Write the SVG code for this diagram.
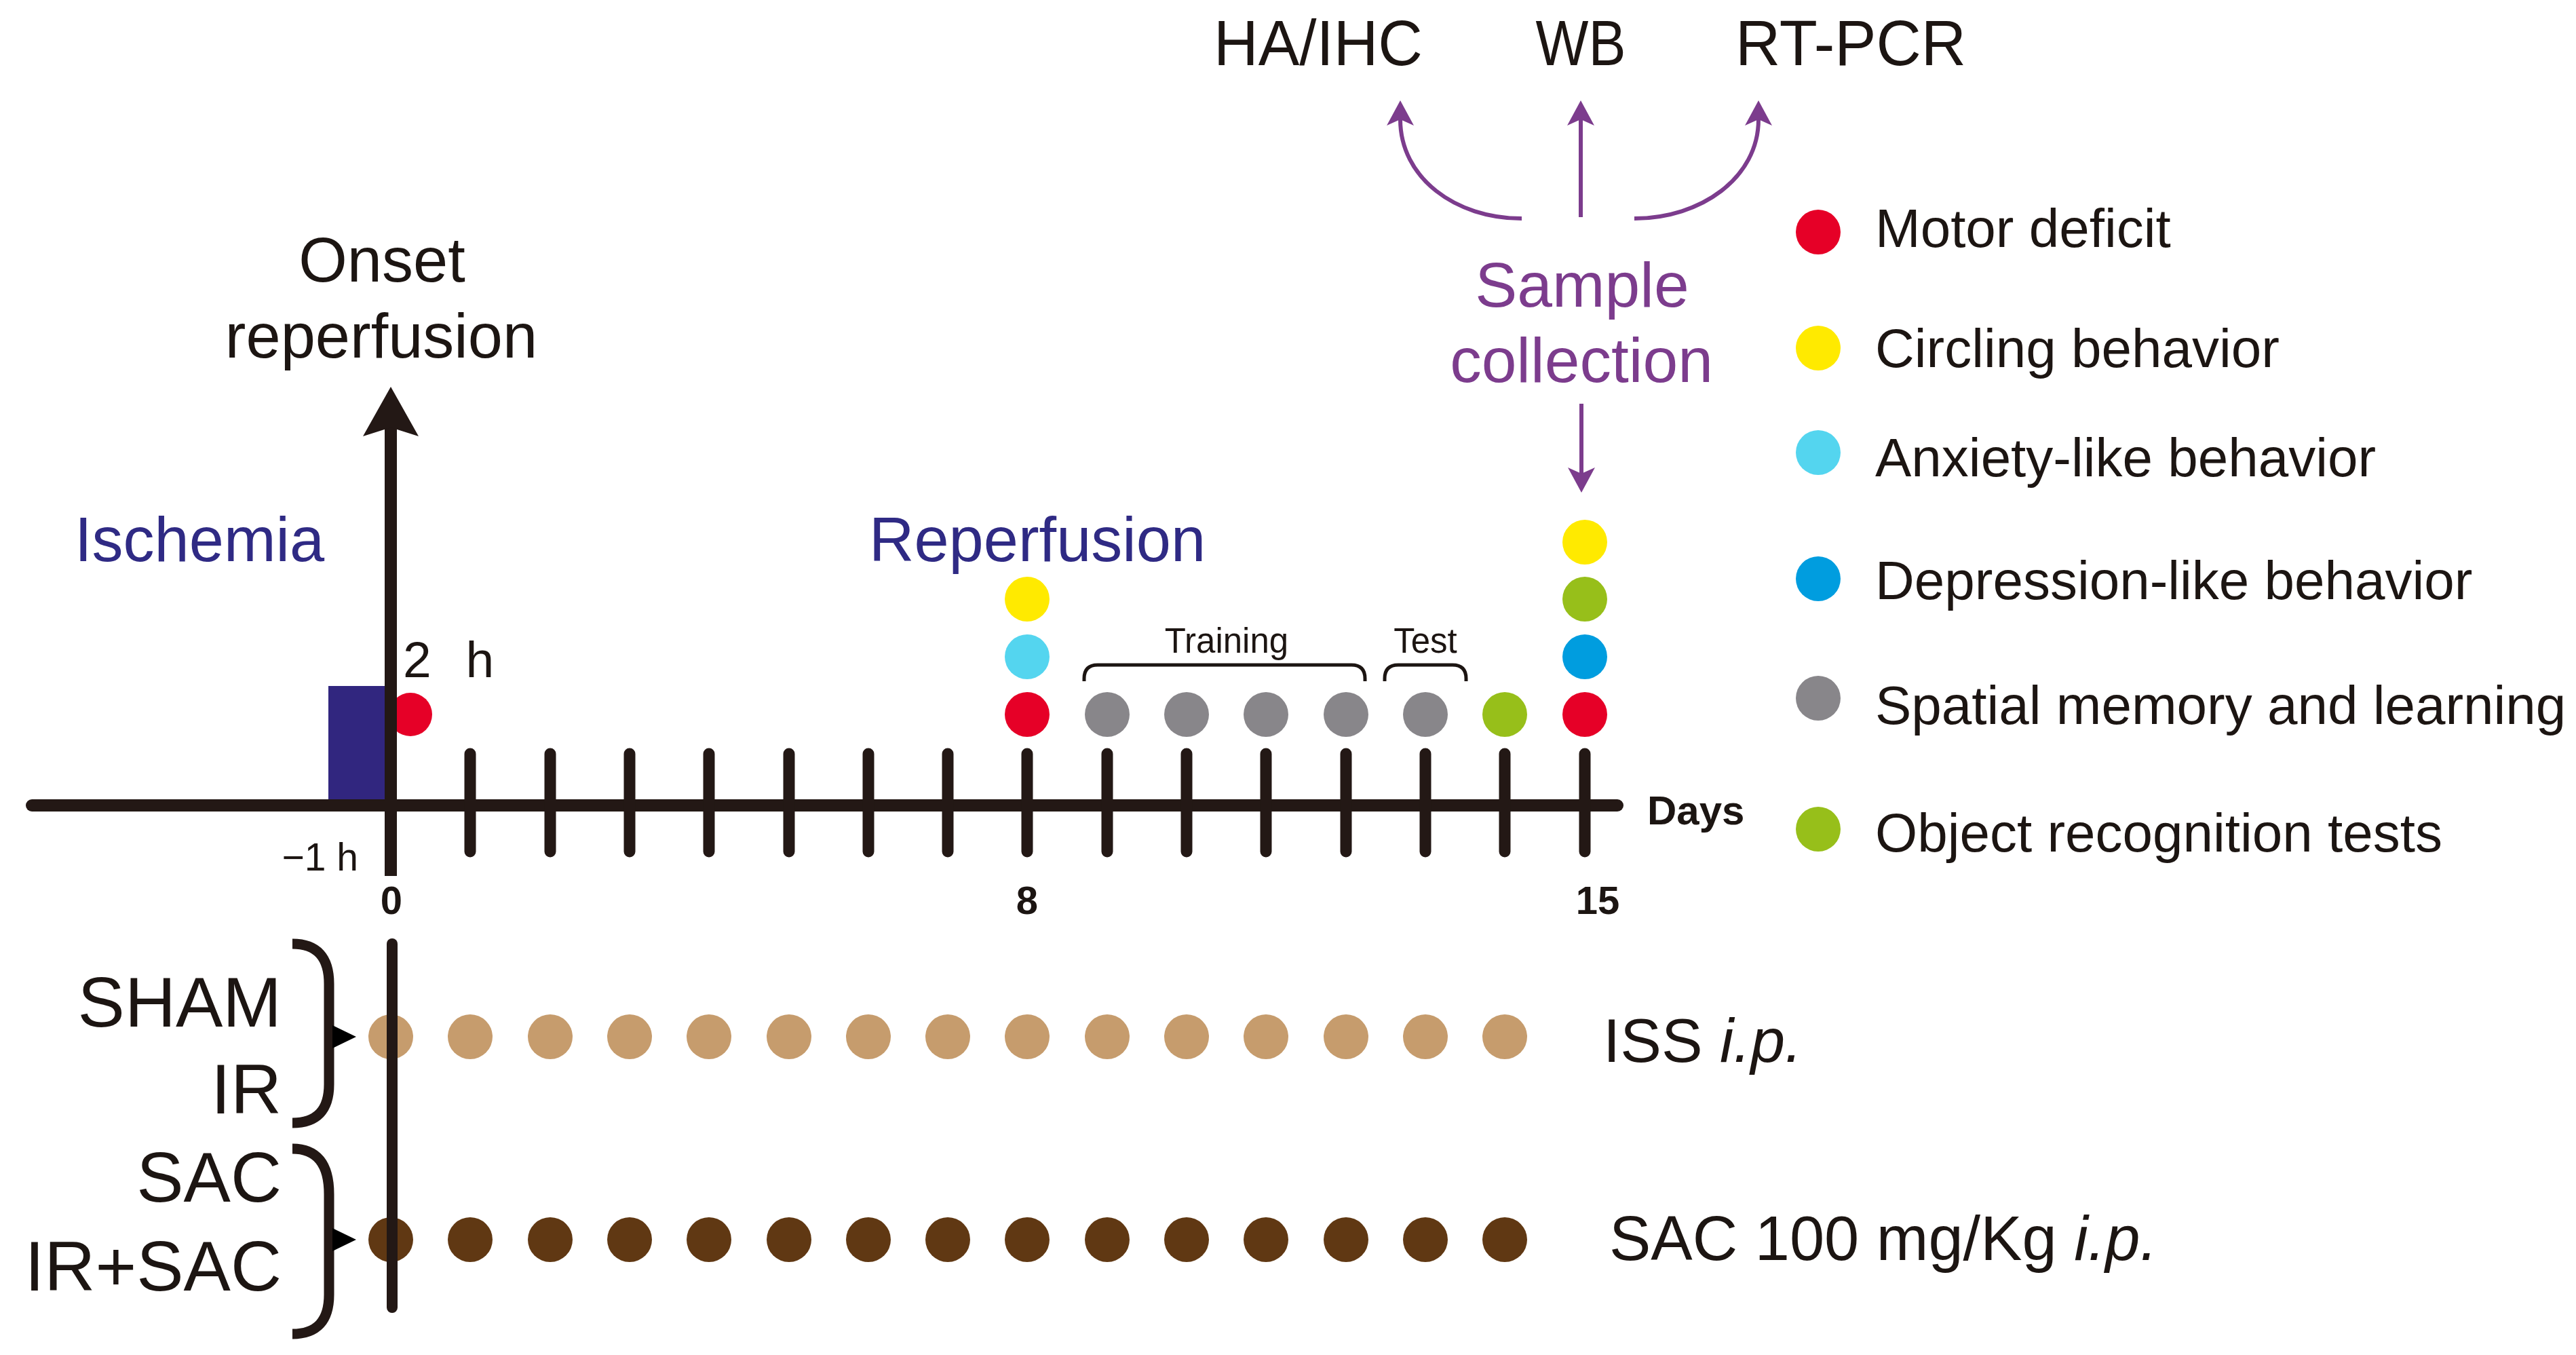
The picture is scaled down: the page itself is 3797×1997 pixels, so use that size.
<svg xmlns="http://www.w3.org/2000/svg" width="3797" height="1997" viewBox="0 0 3797 1997">
<style>
text{font-family:"Liberation Sans",Arial,sans-serif;fill:#1c1512}
.ax{stroke:#231815;fill:none}
.pl{stroke:#7c3c8d;stroke-width:6;fill:none}
.mid{text-anchor:middle}
.end{text-anchor:end}
.b{font-weight:bold}
.pur{fill:#7c3c8d}
.navy{fill:#2f2a84}
.red{fill:#e60027}.yel{fill:#ffea00}.cya{fill:#54d5ef}.blu{fill:#009ddf}.gry{fill:#88868a}.grn{fill:#97bf1a}.tan{fill:#c69c6d}.brn{fill:#603813}
</style>
<defs>
<marker id="pa" markerUnits="userSpaceOnUse" viewBox="-40 -24 48 48" refX="-28" refY="0" markerWidth="48" markerHeight="48" orient="auto">
<path d="M0,0 L-37,-20 L-28,0 L-37,20 Z" fill="#7c3c8d"/>
</marker>
</defs>
<rect width="3797" height="1997" fill="#ffffff"/>

<g id="top-labels">
<text x="1943" y="96" font-size="94" class="mid" textLength="308" lengthAdjust="spacingAndGlyphs">HA/IHC</text>
<text x="2330" y="96" font-size="94" class="mid" textLength="133" lengthAdjust="spacingAndGlyphs">WB</text>
<text x="2728" y="96" font-size="94" class="mid" textLength="340" lengthAdjust="spacingAndGlyphs">RT-PCR</text>
</g>

<g id="sample-collection">
<text x="2332" y="452" font-size="93" class="mid pur">Sample</text>
<text x="2331" y="563" font-size="93" class="mid pur">collection</text>
</g>

<g id="connectors">
<path class="pl" d="M2243,322 C2145,322 2064,262 2064,176" marker-end="url(#pa)"/>
<path class="pl" d="M2330,320 L2330,176" marker-end="url(#pa)"/>
<path class="pl" d="M2409,322 C2507,322 2592,262 2592,176" marker-end="url(#pa)"/>
<path class="pl" d="M2331,595 L2331,698" marker-end="url(#pa)"/>
</g>

<g id="onset">
<text x="563" y="415" font-size="92" class="mid">Onset</text>
<text x="562" y="527" font-size="92" class="mid">reperfusion</text>
</g>

<g id="ischemia">
<text x="110" y="827" font-size="92" class="navy">Ischemia</text>
<rect x="484" y="1011" width="92" height="176" fill="#31267f"/>
</g>

<g id="reperfusion-label">
<text x="1281" y="827" font-size="92" class="navy">Reperfusion</text>
</g>

<g id="dot-2h">
<circle cx="605" cy="1053" r="32" class="red"/>
<text x="594" y="998" font-size="75" word-spacing="30">2 h</text>
</g>

<g id="timeline">
<line class="ax" x1="47" y1="1187" x2="2384" y2="1187" stroke-width="18" stroke-linecap="round"/>
<g class="ax" stroke-width="17" stroke-linecap="round">
<line x1="693" y1="1111" x2="693" y2="1255"/>
<line x1="811" y1="1111" x2="811" y2="1255"/>
<line x1="928" y1="1111" x2="928" y2="1255"/>
<line x1="1045" y1="1111" x2="1045" y2="1255"/>
<line x1="1163" y1="1111" x2="1163" y2="1255"/>
<line x1="1280" y1="1111" x2="1280" y2="1255"/>
<line x1="1397" y1="1111" x2="1397" y2="1255"/>
<line x1="1514" y1="1111" x2="1514" y2="1255"/>
<line x1="1632" y1="1111" x2="1632" y2="1255"/>
<line x1="1749" y1="1111" x2="1749" y2="1255"/>
<line x1="1866" y1="1111" x2="1866" y2="1255"/>
<line x1="1984" y1="1111" x2="1984" y2="1255"/>
<line x1="2101" y1="1111" x2="2101" y2="1255"/>
<line x1="2218" y1="1111" x2="2218" y2="1255"/>
<line x1="2336" y1="1111" x2="2336" y2="1255"/>
</g>
<line class="ax" x1="576" y1="628" x2="576" y2="1291" stroke-width="18"/>
<path d="M576,570 L617,643 L576,630 L535,643 Z" fill="#231815"/>
<text x="528" y="1283" font-size="57" class="end">−1 h</text>
<text x="577" y="1347" font-size="58" class="mid b">0</text>
<text x="1514" y="1347" font-size="58" class="mid b">8</text>
<text x="2355" y="1347" font-size="58" class="mid b">15</text>
<text x="2428" y="1215" font-size="60" class="b">Days</text>
</g>

<g id="day8-tests">
<circle cx="1514" cy="883" r="33" class="yel"/>
<circle cx="1514" cy="968" r="33" class="cya"/>
<circle cx="1514" cy="1053" r="33" class="red"/>
</g>

<g id="training">
<path d="M1598,1004 L1598,1000 Q1598,980 1618,980 L1992,980 Q2012,980 2012,1000 L2012,1004" fill="none" stroke="#1c1512" stroke-width="5"/>
<text x="1808" y="962" font-size="51" class="mid">Training</text>
<circle cx="1632" cy="1053" r="33" class="gry"/>
<circle cx="1749" cy="1053" r="33" class="gry"/>
<circle cx="1866" cy="1053" r="33" class="gry"/>
<circle cx="1984" cy="1053" r="33" class="gry"/>
</g>

<g id="test">
<path d="M2041,1004 L2041,1000 Q2041,980 2061,980 L2141,980 Q2161,980 2161,1000 L2161,1004" fill="none" stroke="#1c1512" stroke-width="5"/>
<text x="2101" y="962" font-size="51" class="mid">Test</text>
<circle cx="2101" cy="1053" r="33" class="gry"/>
</g>

<g id="day14-test">
<circle cx="2218" cy="1053" r="33" class="grn"/>
</g>

<g id="day15-tests">
<circle cx="2336" cy="799" r="33" class="yel"/>
<circle cx="2336" cy="883" r="33" class="grn"/>
<circle cx="2336" cy="968" r="33" class="blu"/>
<circle cx="2336" cy="1053" r="33" class="red"/>
</g>

<g id="legend">
<circle cx="2680" cy="342" r="33" class="red"/>
<text x="2764" y="364" font-size="80">Motor deficit</text>
<circle cx="2680" cy="513" r="33" class="yel"/>
<text x="2764" y="541" font-size="80">Circling behavior</text>
<circle cx="2680" cy="667" r="33" class="cya"/>
<text x="2764" y="702" font-size="80">Anxiety-like behavior</text>
<circle cx="2680" cy="853" r="33" class="blu"/>
<text x="2764" y="883" font-size="80">Depression-like behavior</text>
<circle cx="2680" cy="1029" r="33" class="gry"/>
<text x="2764" y="1067" font-size="80">Spatial memory and learning</text>
<circle cx="2680" cy="1222" r="33" class="grn"/>
<text x="2764" y="1255" font-size="80">Object recognition tests</text>
</g>

<g id="groups">
<path class="ax" stroke-width="15" d="M431,1391 Q485,1391 485,1450 L485,1598 Q485,1655 431,1655"/>
<path d="M490,1511 L525,1528 L490,1545 Z" fill="#000"/>
<path class="ax" stroke-width="15" d="M431,1693 Q485,1693 485,1760 L485,1908 Q485,1966 431,1966"/>
<path d="M490,1810 L525,1827 L490,1844 Z" fill="#000"/>
<text x="415" y="1513" font-size="104" class="end">SHAM</text>
<text x="415" y="1641" font-size="104" class="end">IR</text>
<text x="415" y="1771" font-size="104" class="end">SAC</text>
<text x="415" y="1902" font-size="104" class="end">IR+SAC</text>
</g>

<g id="iss-row">
<circle cx="576" cy="1528" r="33" class="tan"/>
<circle cx="693" cy="1528" r="33" class="tan"/>
<circle cx="811" cy="1528" r="33" class="tan"/>
<circle cx="928" cy="1528" r="33" class="tan"/>
<circle cx="1045" cy="1528" r="33" class="tan"/>
<circle cx="1163" cy="1528" r="33" class="tan"/>
<circle cx="1280" cy="1528" r="33" class="tan"/>
<circle cx="1397" cy="1528" r="33" class="tan"/>
<circle cx="1514" cy="1528" r="33" class="tan"/>
<circle cx="1632" cy="1528" r="33" class="tan"/>
<circle cx="1749" cy="1528" r="33" class="tan"/>
<circle cx="1866" cy="1528" r="33" class="tan"/>
<circle cx="1984" cy="1528" r="33" class="tan"/>
<circle cx="2101" cy="1528" r="33" class="tan"/>
<circle cx="2218" cy="1528" r="33" class="tan"/>
<text x="2363" y="1565" font-size="91">ISS <tspan font-style="italic">i.p.</tspan></text>
</g>

<g id="sac-row">
<circle cx="576" cy="1827" r="33" class="brn"/>
<circle cx="693" cy="1827" r="33" class="brn"/>
<circle cx="811" cy="1827" r="33" class="brn"/>
<circle cx="928" cy="1827" r="33" class="brn"/>
<circle cx="1045" cy="1827" r="33" class="brn"/>
<circle cx="1163" cy="1827" r="33" class="brn"/>
<circle cx="1280" cy="1827" r="33" class="brn"/>
<circle cx="1397" cy="1827" r="33" class="brn"/>
<circle cx="1514" cy="1827" r="33" class="brn"/>
<circle cx="1632" cy="1827" r="33" class="brn"/>
<circle cx="1749" cy="1827" r="33" class="brn"/>
<circle cx="1866" cy="1827" r="33" class="brn"/>
<circle cx="1984" cy="1827" r="33" class="brn"/>
<circle cx="2101" cy="1827" r="33" class="brn"/>
<circle cx="2218" cy="1827" r="33" class="brn"/>
<text x="2372" y="1857" font-size="92">SAC 100 mg/Kg <tspan font-style="italic">i.p.</tspan></text>
</g>

<g id="group-axis">
<line class="ax" x1="578" y1="1391" x2="578" y2="1927" stroke-width="16" stroke-linecap="round"/>
</g>
</svg>
